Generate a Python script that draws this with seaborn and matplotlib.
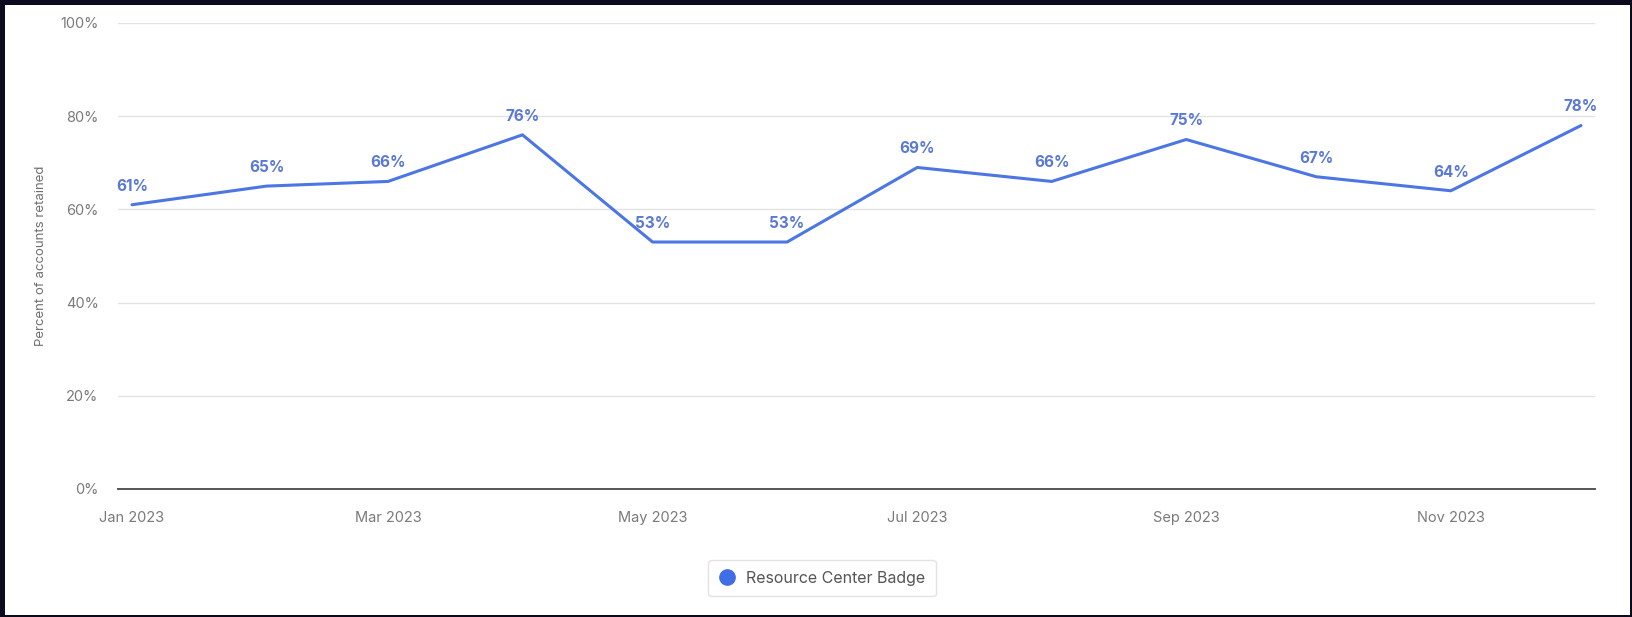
import matplotlib
matplotlib.use("Agg")
import matplotlib.pyplot as plt
import matplotlib.dates as mdates
from matplotlib.patches import Rectangle
from matplotlib.ticker import FuncFormatter, MultipleLocator
import seaborn as sns
import pandas as pd

months = ["2023-01", "2023-02", "2023-03", "2023-04", "2023-05", "2023-06",
          "2023-07", "2023-08", "2023-09", "2023-10", "2023-11", "2023-12"]
retained = [61, 65, 66, 76, 53, 53, 69, 66, 75, 67, 64, 78]
series_name = "Resource Center Badge"
y_label = "Percent of accounts retained"

df = pd.DataFrame({"month": pd.to_datetime(months), "retained": retained})

sns.set_theme(style="white")
plt.rcParams["font.family"] = ["Inter", "DejaVu Sans"]

W, H = 1633, 617
fig = plt.figure(figsize=(W / 100, H / 100), dpi=100, facecolor="#0b0a1f")
fig.patches.append(Rectangle((5 / W, 2 / H), (W - 8) / W, (H - 7) / H,
                             transform=fig.transFigure, facecolor="white",
                             edgecolor="none", zorder=-10))

ax = fig.add_axes([118 / W, (H - 489) / H, (1595 - 118) / W, (489 - 23) / H])
ax.set_facecolor("white")
line_color = "#4c76e3"
sns.lineplot(data=df, x="month", y="retained", ax=ax, color=line_color,
             linewidth=2.2, legend=False, zorder=3)

x0 = mdates.date2num(df["month"].iloc[0])
x1 = mdates.date2num(df["month"].iloc[-1])
pad = (x1 - x0) * 14 / 1450
ax.set_xlim(x0 - pad, x1 + pad)
ax.set_ylim(0, 100)
ax.yaxis.set_major_locator(MultipleLocator(20))
ax.yaxis.set_major_formatter(FuncFormatter(lambda v, p: f"{v:.0f}%"))
ax.xaxis.set_major_locator(mdates.MonthLocator(bymonth=[1, 3, 5, 7, 9, 11]))
ax.xaxis.set_major_formatter(mdates.DateFormatter("%b %Y"))

ax.grid(axis="y", color="#e3e3e3", linewidth=1)
ax.grid(axis="x", visible=False)
for s in ["top", "right", "left"]:
    ax.spines[s].set_visible(False)
ax.spines["bottom"].set_color("#555555")
ax.spines["bottom"].set_linewidth(1.4)
ax.spines["bottom"].set_zorder(4)
ax.tick_params(axis="both", length=0, labelsize=10.5, colors="#7a7a7a")
ax.tick_params(axis="y", pad=14)
ax.tick_params(axis="x", pad=16)

ax.set_xlabel("")
ax.set_ylabel(y_label, fontsize=9.5, color="#6f6f6f")
ax.yaxis.set_label_coords(-0.048, 0.5)

for m, v in zip(df["month"], df["retained"]):
    ax.annotate(f"{v}%", (m, v), xytext=(0, 8), textcoords="offset points",
                ha="center", va="bottom", fontsize=11, fontweight="bold",
                color="#5a78d6", zorder=5)

leg_handle = plt.Line2D([], [], marker="o", linestyle="none", markersize=11,
                        markerfacecolor="#3f6ee6", markeredgecolor="#3f6ee6")
leg = fig.legend([leg_handle], [series_name], loc="center",
                 bbox_to_anchor=(822 / W, 1 - 578 / H), frameon=True,
                 fontsize=11.5, handletextpad=0.7, borderpad=0.65,
                 borderaxespad=0, handlelength=1.0, fancybox=True)
leg.get_frame().set_edgecolor("#dcdcdc")
leg.get_frame().set_linewidth(1)
for t in leg.get_texts():
    t.set_color("#555555")

fig.savefig("out.png", dpi=100, facecolor=fig.get_facecolor())
